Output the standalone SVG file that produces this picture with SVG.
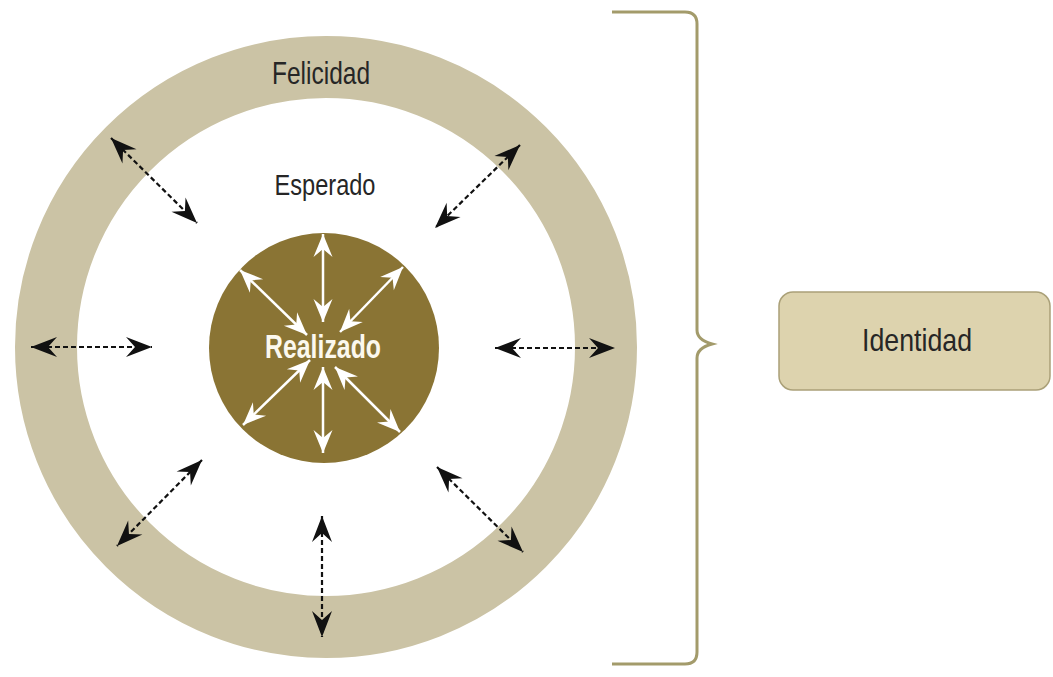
<svg xmlns="http://www.w3.org/2000/svg" width="1053" height="677" viewBox="0 0 1053 677">
<style>
.lbl{font-family:"Liberation Sans",Arial,sans-serif;fill:#262626;text-anchor:middle}
.blk{stroke:#111;stroke-width:2.2;stroke-dasharray:5 3;fill:none;marker-start:url(#ah);marker-end:url(#ah)}
.wht{stroke:#fff;stroke-width:2.5;fill:none;marker-start:url(#wh);marker-end:url(#wh)}
</style>
<defs>
<marker id="ah" viewBox="-28 -11 30 22" refX="0" refY="0" markerWidth="30" markerHeight="22" markerUnits="userSpaceOnUse" orient="auto-start-reverse">
<path d="M0,0 L-26,-10 L-17,0 L-26,10 Z" fill="#111"/>
</marker>
<marker id="wh" viewBox="-26 -11 28 22" refX="0" refY="0" markerWidth="28" markerHeight="22" markerUnits="userSpaceOnUse" orient="auto-start-reverse">
<path d="M0,0 L-23,-9.5 L-15,0 L-23,9.5 Z" fill="#fff"/>
</marker>
</defs>
<rect width="1053" height="677" fill="#fff"/>
<g id="felicidad">
<circle cx="326" cy="347" r="280" fill="none" stroke="#cbc3a5" stroke-width="62"/>
<text class="lbl" x="321" y="84" font-size="32" textLength="98" lengthAdjust="spacingAndGlyphs">Felicidad</text>
</g>
<g id="esperado">
<text class="lbl" x="325" y="195" font-size="30" textLength="101" lengthAdjust="spacingAndGlyphs">Esperado</text>
</g>
<g id="realizado">
<circle cx="324" cy="348" r="115" fill="#8a7434"/>
<text x="323" y="358" font-family="Liberation Sans,Arial,sans-serif" font-weight="bold" font-size="34" fill="#fbf8ee" text-anchor="middle" textLength="116" lengthAdjust="spacingAndGlyphs">Realizado</text>
</g>
<g id="connectors">
<line class="wht" x1="323" y1="234" x2="323" y2="322"/>
<line class="wht" x1="323" y1="367" x2="323" y2="453"/>
<line class="wht" x1="240" y1="270" x2="307" y2="335"/>
<line class="wht" x1="403" y1="267" x2="340" y2="332"/>
<line class="wht" x1="310" y1="360" x2="243" y2="425"/>
<line class="wht" x1="335" y1="367" x2="400" y2="432"/>
<line class="blk" x1="111" y1="138" x2="197" y2="223"/>
<line class="blk" x1="520" y1="145" x2="435" y2="228"/>
<line class="blk" x1="31" y1="347" x2="152" y2="347"/>
<line class="blk" x1="495" y1="348" x2="615" y2="348"/>
<line class="blk" x1="202" y1="460" x2="117" y2="546"/>
<line class="blk" x1="322" y1="516" x2="322" y2="637"/>
<line class="blk" x1="437" y1="467" x2="523" y2="552"/>
<path d="M612,12 L685,12 Q697,12 697,24 L697,330 Q697,340 712,344 Q697,348 697,358 L697,652 Q697,664 685,664 L612,664" fill="none" stroke="#a39b6b" stroke-width="3"/>
</g>
<g id="identidad">
<rect x="779" y="292" width="271" height="98" rx="14" fill="#ddd3ae" stroke="#aaa078" stroke-width="1.5"/>
<text class="lbl" x="917" y="351" font-size="32" textLength="110" lengthAdjust="spacingAndGlyphs">Identidad</text>
</g>
</svg>
